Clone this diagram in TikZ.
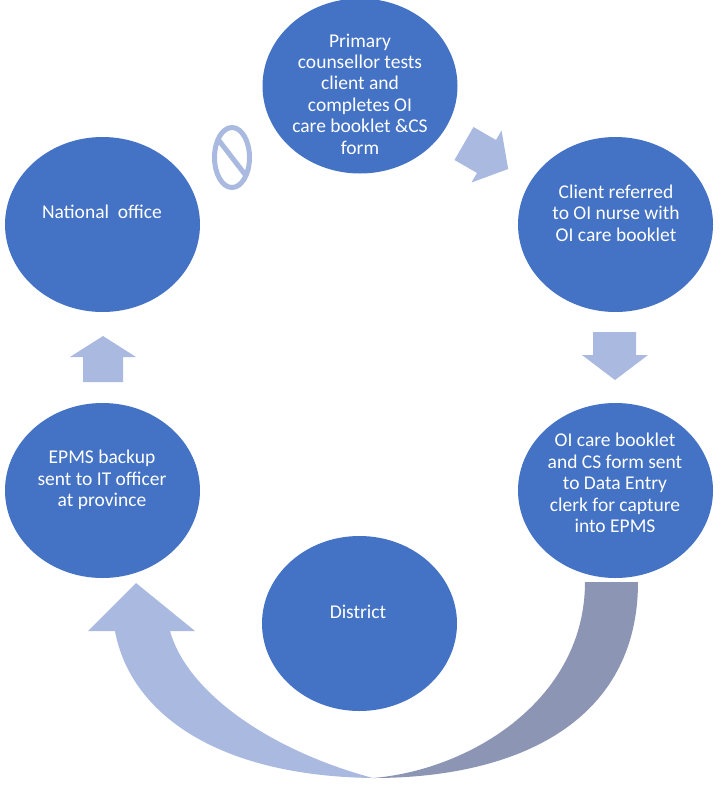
\documentclass[tikz,border=0pt]{standalone}
\usepackage{fontspec}
\setmainfont{Carlito}
\usetikzlibrary{shapes.geometric}
\definecolor{circblue}{HTML}{4472C4}
\definecolor{lightarrow}{HTML}{AAB9E0}
\definecolor{darkarc}{HTML}{8C96B4}
\begin{document}
\begin{tikzpicture}[x=1pt,y=-1pt,
  stage/.style={ellipse, fill=circblue, minimum width=195pt, minimum height=175pt, inner sep=0pt},
  stagetext/.style={text=white, align=center, inner sep=0pt, font=\fontsize{19.5}{21.4}\selectfont},
  blockarrow/.style={fill=lightarrow},
  ringsym/.style={draw=lightarrow, line width=5pt}]
\useasboundingbox (0,0) rectangle (725,787);
\fill[white] (0,0) rectangle (725,787);

% stages
\node[stage] (top) at (360,86) {};
\node[stage] (nat) at (102.5,224.5) {};
\node[stage] (cli) at (615.5,224.5) {};
\node[stage] (epms) at (102.5,490.5) {};
\node[stage] (oic) at (615.5,490.5) {};
\node[stage] (dis) at (359.5,623.5) {};

\begin{scope}
\clip (0,0) rectangle (725,153.2);
\node[stagetext] (ttop) at (360,94) {Primary\\counsellor tests\\client and\\completes OI\\care booklet \&CS\\form};
\end{scope}
\node[stagetext] (tnat) at (102,212) {National\ \ office};
\node[stagetext] (tcli) at (616,213) {Client referred\\to OI nurse with\\OI care booklet};
\node[stagetext] (tepms) at (102,480) {EPMS backup\\sent to IT officer\\at province};
\node[stagetext] (toic) at (615,483) {OI care booklet\\and CS form sent\\to Data Entry\\clerk for capture\\into EPMS};
\node[stagetext] (tdis) at (358,612) {District};

% no symbol
\coordinate (nosym) at (232,157.5);
\begin{scope}
\clip (nosym) ellipse [x radius=18pt, y radius=30pt];
\draw[ringsym] ([shift={(-20,-26)}]nosym) -- ([shift={(20,26)}]nosym);
\end{scope}
\draw[ringsym] (nosym) ellipse [x radius=17.5pt, y radius=30pt];

% diagonal block arrow
\begin{scope}[shift={(464,143.5)}, rotate=-30]
\fill[blockarrow] (0,-19) -- (26,-19) -- (26,-30) -- (51,0) -- (26,30) -- (26,19) -- (0,19) -- cycle;
\end{scope}

% down block arrow
\fill[blockarrow] (593,332) -- (636,332) -- (636,355) -- (648,355) -- (615,380) -- (582,355) -- (593,355) -- cycle;

% up block arrow
\fill[blockarrow] (83,382) -- (123,382) -- (123,357) -- (136,357) -- (103,336) -- (70,357) -- (83,357) -- cycle;

% bottom curved arrows
\coordinate (meet) at (373,778);
\fill[darkarc] (585,582) -- (638,582) .. controls (638,720) and (520,778) .. (meet)
  .. controls (470,770) and (585,700) .. (585,582) -- cycle;
\fill[lightarrow] (115,631) .. controls (130,712) and (215,776) .. (meet)
  .. controls (275,752) and (188,695) .. (170,631) -- (195,631) -- (136,583) -- (88,631) -- cycle;
\end{tikzpicture}
\end{document}
